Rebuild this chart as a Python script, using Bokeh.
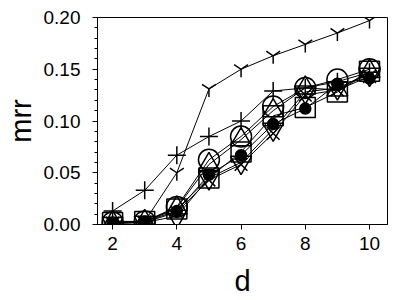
from bokeh.plotting import figure
from bokeh.embed import file_html
from bokeh.resources import INLINE
from bokeh.models import Range1d, FixedTicker, CustomJSTickFormatter

d = [2, 3, 4, 5, 6, 7, 8, 9, 10]

mrr_y = [0.003, 0.003, 0.050, 0.131, 0.150, 0.163, 0.174, 0.185, 0.197]
mrr_plus = [0.013, 0.033, 0.067, 0.085, 0.100, 0.129, 0.132, 0.138, 0.147]
mrr_circle = [0.002, 0.003, 0.017, 0.0625, 0.085, 0.114, 0.132, 0.140, 0.150]
mrr_triangle = [0.002, 0.003, 0.016, 0.058, 0.082, 0.110, 0.132, 0.130, 0.148]
mrr_square = [0.002, 0.003, 0.015, 0.045, 0.070, 0.105, 0.113, 0.128, 0.148]
mrr_dot = [0.002, 0.003, 0.013, 0.048, 0.067, 0.097, 0.112, 0.136, 0.141]
mrr_x = [0.001, 0.002, 0.012, 0.043, 0.058, 0.088, 0.125, 0.130, 0.143]
mrr_invtri = [0.001, 0.002, 0.008, 0.045, 0.060, 0.092, 0.128, 0.132, 0.145]

x_ticks = [2, 4, 6, 8, 10]
y_ticks = [0.0, 0.05, 0.10, 0.15, 0.20]

p = figure(width=391, height=300, output_backend="svg", toolbar_location=None,
           x_range=Range1d(1.53, 10.56), y_range=Range1d(0.0, 0.20),
           min_border_left=97, min_border_right=4, min_border_top=17, min_border_bottom=76)
p.background_fill_color = "white"
p.border_fill_color = "white"
p.outline_line_color = "black"
p.outline_line_width = 1
p.grid.visible = False

series = [
    (mrr_y, "y", 16, None),
    (mrr_plus, "cross", 18, None),
    (mrr_circle, "circle", 21, None),
    (mrr_triangle, "triangle", 21, None),
    (mrr_square, "square", 20, None),
    (mrr_x, "x", 18, None),
    (mrr_invtri, "inverted_triangle", 21, None),
    (mrr_dot, "circle", 11, "black"),
]
for vals, mk, sz, fill in series:
    p.line(d, vals, line_color="black", line_width=1)
    p.scatter(d, vals, marker=mk, size=sz, line_color="black", line_width=1.5,
              fill_color=fill if fill else None)

font = "Liberation Sans"
for ax in (p.xaxis[0], p.yaxis[0]):
    ax.axis_line_color = "black"
    ax.major_tick_line_color = "black"
    ax.major_tick_out = 5
    ax.major_tick_in = 0
    ax.minor_tick_out = 3
    ax.minor_tick_in = 0
    ax.major_label_text_font = font
    ax.major_label_text_font_size = "19px"
    ax.major_label_text_color = "black"
    ax.axis_label_text_font = font
    ax.axis_label_text_font_size = "29px"
    ax.axis_label_text_font_style = "normal"
    ax.axis_label_text_color = "black"

p.xaxis.ticker = FixedTicker(ticks=x_ticks)
p.xaxis.minor_tick_line_color = None
p.yaxis.ticker = FixedTicker(ticks=y_ticks, minor_ticks=[i * 0.01 for i in range(21)])
p.yaxis.formatter = CustomJSTickFormatter(code="return tick.toFixed(2);")
p.xaxis.axis_label = "d"
p.yaxis.axis_label = "mrr"
p.xaxis.major_label_standoff = 7
p.yaxis.major_label_standoff = 12
p.xaxis.axis_label_standoff = 12
p.yaxis.axis_label_standoff = 4

open("out.html", "w").write(file_html(p, INLINE))
